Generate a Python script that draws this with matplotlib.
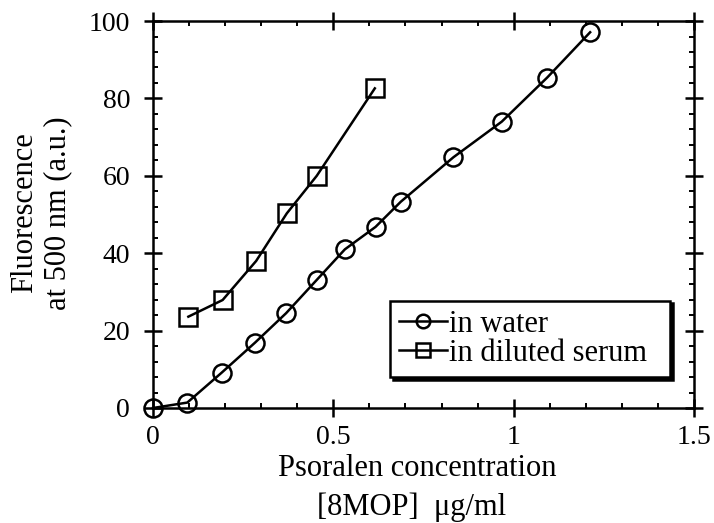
import numpy as np
import matplotlib.pyplot as plt
from matplotlib.ticker import MultipleLocator, FixedLocator, FixedFormatter

plt.rcParams['font.family'] = ['Liberation Serif', 'DejaVu Serif']

# 8MOP concentration (ug/ml) vs fluorescence at 500 nm
water_x = [0.0, 0.095, 0.19, 0.283, 0.369, 0.454, 0.532, 0.617, 0.687,
           0.833, 0.967, 1.093, 1.212]
water_y = [0.0, 1.4, 9.1, 16.9, 24.5, 33.1, 41.0, 46.8, 53.3,
           64.8, 74.0, 85.4, 97.1]

serum_x = [0.098, 0.193, 0.286, 0.371, 0.454, 0.615]
serum_y = [23.6, 27.9, 38.0, 50.3, 60.0, 82.6]

xticks = [0, 0.5, 1, 1.5]
xtick_labels = ['0', '0.5', '1', '1.5']
yticks = [0, 20, 40, 60, 80, 100]

fig = plt.figure(figsize=(7.14, 5.23), dpi=100)
ax = fig.add_axes([0.2143, 0.2199, 0.7577, 0.7399])

ax.plot(water_x, water_y, color='black', lw=1.8, marker='o', ms=13,
        mfc='none', mec='black', mew=1.8, label='in water', clip_on=False)
ax.plot(serum_x, serum_y, color='black', lw=1.8, marker='s', ms=13,
        mfc='none', mec='black', mew=1.8, label='in diluted serum', clip_on=False)

ax.set_xlim(0, 1.5)
ax.set_ylim(0, 100)

ax.xaxis.set_major_locator(FixedLocator(xticks))
ax.xaxis.set_major_formatter(FixedFormatter(xtick_labels))
ax.xaxis.set_minor_locator(MultipleLocator(0.1))
ax.yaxis.set_major_locator(FixedLocator(yticks))
ax.yaxis.set_minor_locator(MultipleLocator(4))

for s in ax.spines.values():
    s.set_linewidth(1.8)

ax.tick_params(which='major', direction='inout', length=13, width=1.8,
               top=True, right=True, labelsize=20)
ax.tick_params(which='minor', direction='in', length=3.5, width=1.4,
               top=True, right=True)
ax.tick_params(axis='x', which='major', pad=6)
ax.tick_params(axis='y', which='major', pad=10)

fig.text(0.035, 0.593, 'Fluorescence', rotation=90, ha='center', va='center',
         fontsize=22)
fig.text(0.081, 0.593, 'at 500 nm (a.u.)', rotation=90, ha='center', va='center',
         fontsize=22)
fig.text(0.584, 0.105, 'Psoralen concentration', ha='center', va='center',
         fontsize=22)
fig.text(0.577, 0.031, '[8MOP]  \u03bcg/ml', ha='center', va='center',
         fontsize=22)

leg = ax.legend(loc='lower left', bbox_to_anchor=(0.438, 0.08, 0.518, 0.194),
                mode='expand', fontsize=22, frameon=True, fancybox=False,
                edgecolor='black', shadow={'color': 'black', 'alpha': 1},
                handlelength=1.57, handletextpad=0.05, borderpad=0.3,
                labelspacing=0.0, markerscale=0.75, borderaxespad=0)
leg.get_frame().set_linewidth(1.8)

fig.savefig('out.png', dpi=100)
